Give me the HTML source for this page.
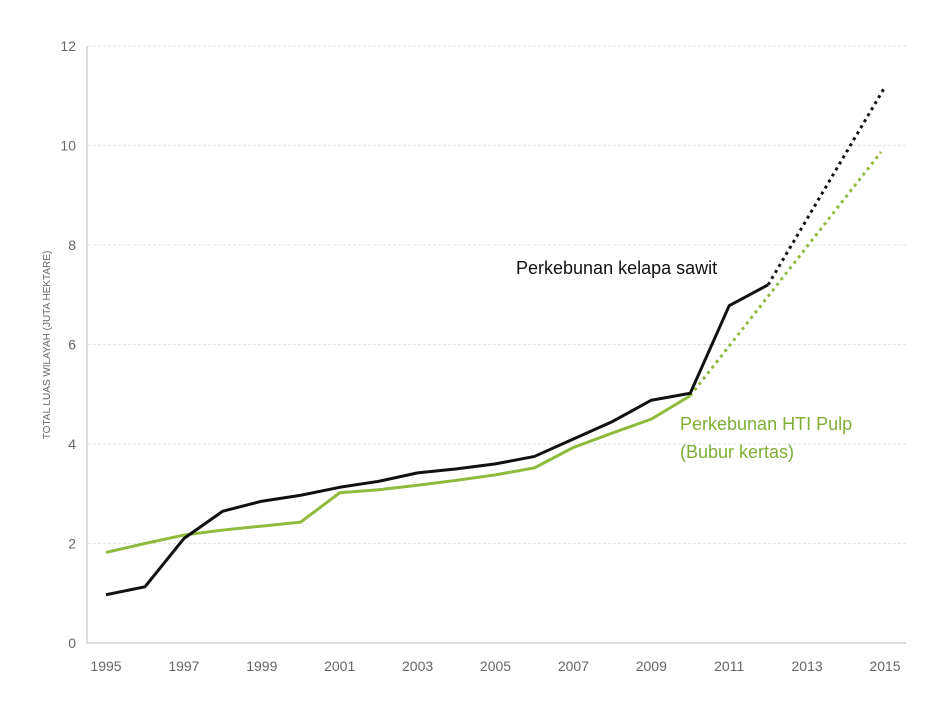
<!DOCTYPE html>
<html><head><meta charset="utf-8"><style>
body{margin:0;background:#fff;}
svg text{font-family:"Liberation Sans",sans-serif;}
</style></head><body>
<svg id="chart" width="946" height="710" xmlns="http://www.w3.org/2000/svg"></svg>
<script>
const years=[1995,1996,1997,1998,1999,2000,2001,2002,2003,2004,2005,2006,2007,2008,2009,2010,2011,2012];
const palmValues=[0.97,1.13,2.1,2.65,2.85,2.97,3.13,3.25,3.42,3.5,3.6,3.75,4.1,4.45,4.88,5.02,6.78,7.2];
const palmProjYears=[2012,2015];
const palmProjValues=[7.2,11.18];
const pulpYears=[1995,1996,1997,1998,1999,2000,2001,2002,2003,2004,2005,2006,2007,2008,2009,2010];
const pulpValues=[1.82,2.0,2.17,2.27,2.35,2.43,3.02,3.08,3.17,3.27,3.38,3.52,3.93,4.22,4.5,4.97];
const pulpProjYears=[2010,2014.9];
const pulpProjValues=[4.97,9.87];
const yTicks=[0,2,4,6,8,10,12];
const xTicks=[1995,1997,1999,2001,2003,2005,2007,2009,2011,2013,2015];

const NS='http://www.w3.org/2000/svg';
const svg=document.getElementById('chart');
const X=v=>106+(v-1995)*38.95;
const Y=v=>643-v*49.75;
function mk(tag,attrs){const e=document.createElementNS(NS,tag);for(const k in attrs)e.setAttribute(k,attrs[k]);svg.appendChild(e);return e;}

yTicks.forEach(t=>{
  if(t>0){const g=mk('line',{x1:88,x2:906,y1:Y(t),y2:Y(t),stroke:'#e6e6e6','stroke-width':1.2,'stroke-dasharray':'3,2'});
  
  }
  const l=mk('text',{x:76,y:Y(t)+5,'text-anchor':'end','font-size':14,fill:'#666'});
  l.textContent=t;
  
  
});
const ax=mk('line',{x1:87,x2:87,y1:46,y2:643,stroke:'#ddd','stroke-width':2});


const bx=mk('line',{x1:86,x2:906,y1:643,y2:643,stroke:'#ddd','stroke-width':2});


xTicks.forEach(t=>{
  const l=mk('text',{x:X(t),y:671,'text-anchor':'middle','font-size':14,fill:'#666'});
  l.textContent=t;
  
  
});
const yt=mk('text',{x:0,y:0,'font-size':10,fill:'#666','text-anchor':'middle',transform:'translate(50,345) rotate(-90)'});
yt.textContent='TOTAL LUAS WILAYAH  (JUTA HEKTARE)';



function pts(xs,vs){return xs.map((x,i)=>X(x)+','+Y(vs[i])).join(' ');}
const pp=mk('polyline',{points:pts(pulpProjYears,pulpProjValues),fill:'none',stroke:'#8fba3c','stroke-width':3,'stroke-dasharray':'3,4'});


const pl=mk('polyline',{points:pts(pulpYears,pulpValues),fill:'none',stroke:'#8fba3c','stroke-width':3,'stroke-linejoin':'round'});


const kp=mk('polyline',{points:pts(palmProjYears,palmProjValues),fill:'none',stroke:'#111','stroke-width':3,'stroke-dasharray':'3,4'});


const kl=mk('polyline',{points:pts(years,palmValues),fill:'none',stroke:'#111','stroke-width':3,'stroke-linejoin':'round'});



const a=mk('text',{x:516,y:274,'font-size':18,fill:'#111'});
a.textContent='Perkebunan kelapa sawit';


const b=mk('text',{x:680,y:430,'font-size':18,fill:'#7fae35'});
b.textContent='Perkebunan HTI Pulp';


const c=mk('text',{x:680,y:458,'font-size':18,fill:'#7fae35'});
c.textContent='(Bubur kertas)';


</script>
</body></html>
